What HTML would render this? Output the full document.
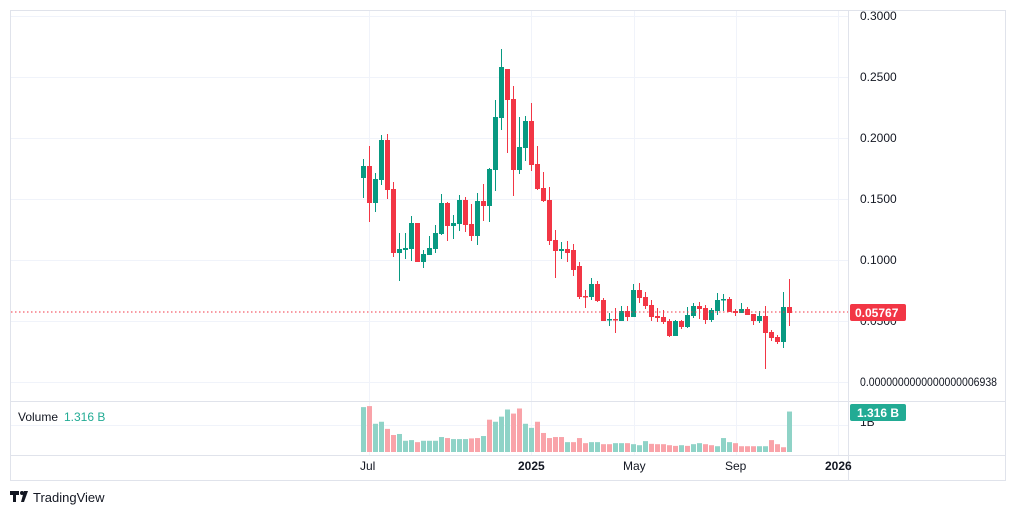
<!DOCTYPE html>
<html><head><meta charset="utf-8"><style>
html,body{margin:0;padding:0;background:#fff;width:1016px;height:515px;overflow:hidden;font-family:"Liberation Sans",sans-serif;}
svg text{font-family:"Liberation Sans",sans-serif;}
</style></head><body>
<svg id="s" width="1016" height="515" xmlns="http://www.w3.org/2000/svg">
<rect x="10.5" y="10.5" width="995" height="470" fill="#fff" stroke="#e0e3eb"/>
<g stroke="#f0f3fa" stroke-width="1">
<line x1="11" y1="16.5" x2="848" y2="16.5"/><line x1="11" y1="77.5" x2="848" y2="77.5"/>
<line x1="11" y1="138.5" x2="848" y2="138.5"/><line x1="11" y1="199.5" x2="848" y2="199.5"/>
<line x1="11" y1="260.5" x2="848" y2="260.5"/><line x1="11" y1="321.5" x2="848" y2="321.5"/>
<line x1="11" y1="382.5" x2="848" y2="382.5"/><line x1="11" y1="425.5" x2="848" y2="425.5"/>
<line x1="369.5" y1="11" x2="369.5" y2="455"/><line x1="531.5" y1="11" x2="531.5" y2="455"/>
<line x1="634.5" y1="11" x2="634.5" y2="455"/><line x1="736.5" y1="11" x2="736.5" y2="455"/>
<line x1="838.5" y1="11" x2="838.5" y2="455"/>
</g>
<line x1="11" y1="401.5" x2="1006" y2="401.5" stroke="#e0e3eb"/>
<line x1="848.5" y1="11" x2="848.5" y2="480" stroke="#e0e3eb"/>
<line x1="11" y1="455.5" x2="1006" y2="455.5" stroke="#e0e3eb"/>
<g id="c"></g>
<line x1="11" y1="312" x2="848" y2="312" stroke="#f23645" stroke-dasharray="1.5,2.5"/>
<g font-size="12" fill="#131722">
<text x="860" y="20">0.3000</text><text x="860" y="81">0.2500</text>
<text x="860" y="142">0.2000</text><text x="860" y="203">0.1500</text>
<text x="860" y="264">0.1000</text><text x="860" y="325">0.0500</text>
<text x="860" y="386" textLength="137" lengthAdjust="spacingAndGlyphs">0.0000000000000000006938</text>
<text x="860" y="426">1B</text>
<text x="360" y="470">Jul</text>
<text x="518" y="470" font-weight="bold">2025</text>
<text x="623" y="470">May</text>
<text x="725" y="470">Sep</text>
<text x="825" y="470" font-weight="bold">2026</text>
</g>
<rect x="850" y="304" width="56" height="17" rx="2" fill="#f23645"/>
<text x="855" y="317" font-size="12" font-weight="bold" fill="#fff">0.05767</text>
<rect x="850" y="404" width="56" height="17" rx="2" fill="#22ab94"/>
<text x="857" y="417" font-size="12" font-weight="bold" fill="#fff">1.316 B</text>
<text x="18" y="421" font-size="12" fill="#131722">Volume</text>
<text x="64" y="421" font-size="12" fill="#22ab94">1.316 B</text>
<g fill="#131722"><path d="M10 491h9v4h-3v7h-3v-7h-3z"/><circle cx="22" cy="493" r="2"/><path d="M24 491h4l-4 11h-3z"/></g>
<text x="33" y="502" font-size="13" fill="#131722">TradingView</text>
</svg>
<script>
var C=[
[166,178,159,198,1],[166,203,146,222,0],[179,203,173,212,1],[140,180,135,185,1],[140,190,134,199,0],
[189,253,182,257,0],[249,253,233,281,1],[248,250,233,259,1],[223,249,216,261,1],[223,262,223,262,0],
[254,262,250,268,1],[248,255,236,253,1],[233,249,225,253,1],[203,234,194,235,1],[203,226,202,241,0],
[223,226,215,239,1],[200,224,195,231,1],[200,225,197,232,0],[224,236,204,241,0],[201,236,193,245,1],
[201,206,184,221,0],[169,206,168,222,1],[117,170,100,191,1],[67,118,49,130,1],[69,100,69,153,0],
[99,170,86,196,0],[147,170,117,174,1],[121,148,116,161,1],[121,165,103,171,0],[164,189,146,190,0],
[188,201,172,202,0],[200,241,187,245,0],[240,251,230,278,0],[249,251,242,259,1],[249,253,241,262,0],
[250,270,244,276,0],[266,297,262,299,0],[296,297,290,308,0],[284,297,278,300,1],[284,301,281,302,0],
[300,321,298,321,0],[319,320,313,326,1],[319,320,308,333,0],[311,321,306,321,1],[311,317,306,321,0],
[290,317,284,317,1],[290,298,283,303,0],[297,306,292,309,0],[305,317,300,321,0],[316,318,308,322,0],
[317,322,310,324,0],[321,336,319,337,0],[321,336,320,336,1],[321,327,320,329,0],[315,327,307,328,1],
[306,316,303,318,1],[306,309,302,319,0],[308,320,305,324,0],[310,320,308,322,1],[300,311,293,315,1],
[299,300,294,311,1],[299,312,297,312,0],[311,313,309,316,0],[309,313,303,313,1],[309,315,307,315,0],
[314,321,314,325,0],[316,321,311,323,1],[316,333,306,369,0],[332,338,330,341,0],[337,342,335,344,0],
[307,342,292,348,1],[307,313,279,326,0]];
var V=[132,135,83,89,68,50,53,33,35,29,33,33,33,44,41,38,38,38,40,41,47,95,89,104,125,113,128,83,71,89,56,41,44,44,29,29,41,26,29,29,23,23,26,26,26,23,20,32,24,23,23,20,18,20,18,23,26,23,20,17,41,29,26,17,17,17,17,17,35,23,14,119];
var VC=[1,0,1,1,0,0,1,1,1,0,1,1,1,1,0,1,1,1,0,0,1,0,1,1,1,0,0,1,1,0,0,0,0,0,1,0,0,0,1,1,0,0,1,1,0,1,1,1,0,0,0,0,0,1,0,1,1,0,0,1,1,1,0,0,0,0,1,1,0,0,0,1];
var h='';
for(var i=0;i<C.length;i++){var x=363+i*6,c=C[i],col=c[4]?'#089981':'#f23645';
var t=Math.min(c[0],c[1]),b=Math.max(c[0],c[1]);if(b-t<1.5)b=t+1.5;
h+='<line x1="'+(x+0.5)+'" y1="'+c[2]+'" x2="'+(x+0.5)+'" y2="'+c[3]+'" stroke="'+col+'"/>';
h+='<rect x="'+(x-2)+'" y="'+t+'" width="5" height="'+(b-t)+'" fill="'+col+'"/>';}
for(var i=0;i<V.length;i++){var x=363+i*6,hh=V[i]*0.34;
h+='<rect x="'+(x-2)+'" y="'+(452-hh)+'" width="5" height="'+hh+'" fill="'+(VC[i]?'#8fd3c7':'#f9a3a9')+'"/>';}
document.getElementById('c').innerHTML=h;
</script>
</body></html>
